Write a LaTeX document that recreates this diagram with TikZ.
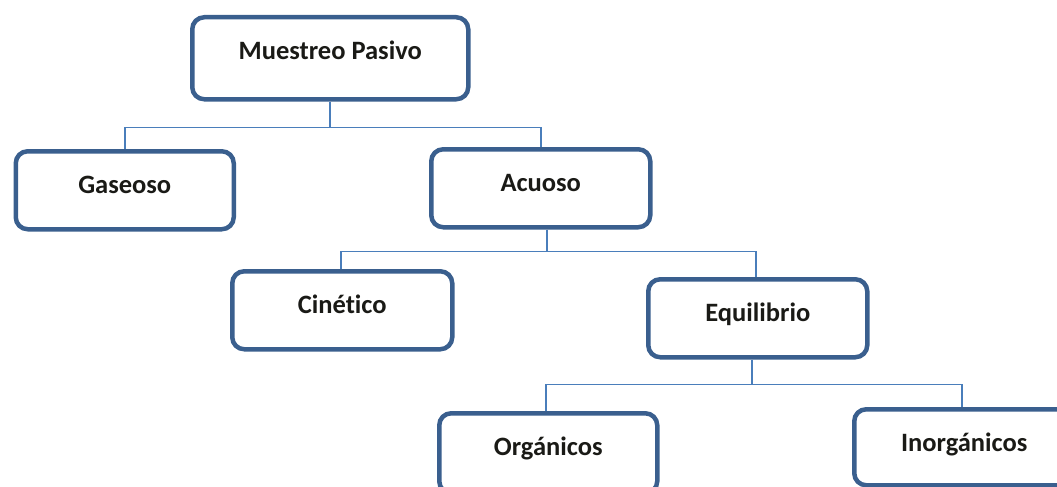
\documentclass[tikz,border=0pt]{standalone}
\usepackage{fontspec}
\setmainfont[Ligatures=NoCommon]{Carlito}
\usetikzlibrary{calc,backgrounds}
\definecolor{boxblue}{HTML}{3A5F8E}
\definecolor{linkblue}{HTML}{4A7EBB}
\definecolor{txt}{HTML}{1A1A16}
\tikzset{
  box/.style={draw=boxblue, line width=4.5pt, rounded corners=12pt, fill=white,
    inner xsep=0pt, inner ysep=0pt, anchor=north west, text height=42pt,
    font=\fontsize{26.5}{30}\selectfont\bfseries, text=txt},
  conn/.style={draw=linkblue, line width=1.6pt}
}
\begin{document}
\begin{tikzpicture}[x=1pt,y=-1pt]
\useasboundingbox (0,0) rectangle (1057,487);
\node[box, minimum width=276pt, text depth=40pt] (mp) at (190,15) {Muestreo Pasivo};
\node[box, minimum width=218pt, text depth=36pt] (gas) at (13.5,149) {Gaseoso};
\node[box, minimum width=219pt, text depth=36pt] (acu) at (429,147) {Acuoso};
\node[box, minimum width=220pt, text depth=36pt] (cin) at (230,269) {Cinético};
\node[box, minimum width=219pt, text depth=36pt] (equ) at (646,277) {Equilibrio};
\node[box, minimum width=218pt, text depth=38pt] (org) at (437,411) {Orgánicos};
\node[box, minimum width=220pt, text depth=34pt] (ino) at (852,407) {Inorgánicos};
\begin{pgfonlayer}{background}
\coordinate (j1) at ($(mp.south)+(0,26)$);
\draw[conn] (mp.south) -- (j1) -| (gas.north);
\draw[conn] (j1) -| (acu.north);
\coordinate (a0) at ($(acu.south)+(6,0)$);
\coordinate (j2) at ($(a0)+(0,22)$);
\draw[conn] (a0) -- (j2) -| ($(cin.north)+(-1,0)$);
\draw[conn] (j2) -| ($(equ.north)+(-1.5,0)$);
\coordinate (e0) at ($(equ.south)+(-5.5,0)$);
\coordinate (j3) at ($(e0)+(0,25)$);
\draw[conn] (e0) -- (j3) -| ($(org.north)+(-2,0)$);
\draw[conn] (j3) -| ($(ino.north)+(-2,0)$);
\end{pgfonlayer}
\end{tikzpicture}
\end{document}
